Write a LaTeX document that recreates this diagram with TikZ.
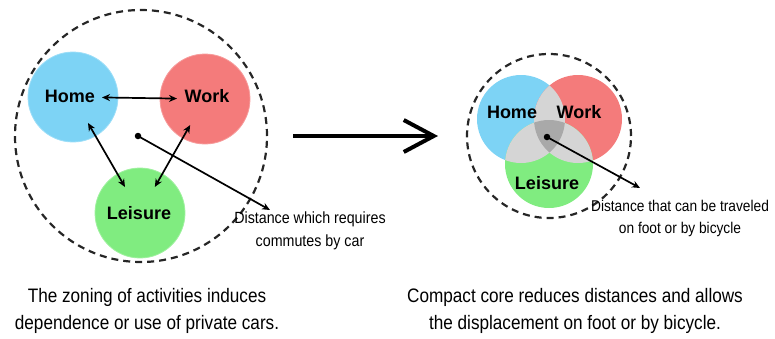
\documentclass[tikz,border=0pt]{standalone}
\usepackage{fontspec}
\usetikzlibrary{calc,arrows.meta}
\newfontfamily\lblfont{Liberation Sans}
\newfontfamily\narrowfont[FakeStretch=0.88]{Liberation Sans}
\definecolor{homeblue}{HTML}{7DD3F5}
\definecolor{workred}{HTML}{F47B7B}
\definecolor{leisgreen}{HTML}{80EC80}
\definecolor{lap}{HTML}{D5D5D5}
\definecolor{core}{HTML}{A9A9A9}
\begin{document}
\begin{tikzpicture}[x=1pt,y=-1pt,
  zone/.style={circle,inner sep=0pt,minimum size=90pt,line width=0.8pt},
  lbl/.style={font=\lblfont\bfseries\fontsize{18}{20}\selectfont,inner sep=1pt},
  note/.style={font=\narrowfont\fontsize{16.2}{22.5}\selectfont,align=center,inner sep=0pt},
  capt/.style={font=\narrowfont\fontsize{19.5}{27}\selectfont,align=center,inner sep=0pt},
  ring/.style={draw=black!85,line width=2.2pt,dash pattern=on 7pt off 5pt},
  link/.style={line width=1.7pt,{Stealth[length=8pt,width=7pt]}-{Stealth[length=8pt,width=7pt]}},
  pointer/.style={line width=1.7pt,-{Stealth[length=8pt,width=7pt]}},
  dot/.style={circle,fill=black,inner sep=0pt,minimum size=6.5pt}]
\useasboundingbox (0,0) rectangle (775,338);
% ---------- left: zoning ----------
\node[zone,ring,minimum size=252pt] (ringL) at (141,136) {};
\node[zone,fill=homeblue,draw=homeblue!75!white] (home) at (73,97) {};
\node[zone,fill=workred,draw=workred!75!white] (work) at (205,99) {};
\node[zone,fill=leisgreen,draw=leisgreen!75!white] (leis) at (140,213) {};
\node[lbl] (homeL) at (70,96) {Home};
\node[lbl] (workL) at (207,96) {Work};
\node[lbl] (leisL) at (139,213) {Leisure};
\draw[link] ($(home.center)!29pt!(work.center)$) -- ($(work.center)!28pt!(home.center)$);
\draw[link] ($(home.center)!30pt!(leis.center)$) -- ($(leis.center)!30pt!(home.center)$);
\draw[link] ($(work.center)!30pt!(leis.center)$) -- ($(leis.center)!30pt!(work.center)$);
\node[dot] (dotL) at (138,136) {};
\coordinate (endL) at (270,210);
\draw[pointer] (dotL.center) -- (endL);
\node[note] (noteL) at (310,231) {Distance which requires\\commutes by car};
% ---------- big arrow ----------
\coordinate (bigS) at (293,136);
\coordinate (bigE) at (438,136);
\draw[line width=4pt,-{Straight Barb[length=30pt,width=32pt]}] (bigS) -- (bigE);
% ---------- right: compact core ----------
\node[zone,ring,minimum size=164pt] (ringR) at (549,136) {};
\node[zone,fill=homeblue,minimum size=88pt] (home2) at (521,119) {};
\node[zone,fill=workred,minimum size=88pt] (work2) at (578,119) {};
\node[zone,fill=leisgreen,minimum size=88pt] (leis2) at (549,164) {};
\begin{scope}
  \clip (home2.center) circle[radius=44pt];
  \fill[lap] (work2.center) circle[radius=44pt];
  \fill[lap] (leis2.center) circle[radius=44pt];
\end{scope}
\begin{scope}
  \clip (work2.center) circle[radius=44pt];
  \fill[lap] (leis2.center) circle[radius=44pt];
\end{scope}
\begin{scope}
  \clip (home2.center) circle[radius=44pt];
  \clip (work2.center) circle[radius=44pt];
  \fill[core] (leis2.center) circle[radius=44pt];
\end{scope}
\node[lbl] (homeL2) at (512,112) {Home};
\node[lbl] (workL2) at (579,112) {Work};
\node[lbl] (leisL2) at (547,183) {Leisure};
\node[dot] (dotR) at (547,137) {};
\coordinate (endR) at (640,188);
\draw[pointer] (dotR.center) -- (endR);
\node[note,font=\narrowfont\fontsize{15.6}{22.5}\selectfont] (noteR) at (680,218.5) {Distance that can be traveled\\on foot or by bicycle};
% ---------- captions ----------
\node[capt] (captL) at (147,311) {The zoning of activities induces\\dependence or use of private cars.};
\node[capt] (captR) at (575,311) {Compact core reduces distances and allows\\the displacement on foot or by bicycle.};
\end{tikzpicture}
\end{document}
